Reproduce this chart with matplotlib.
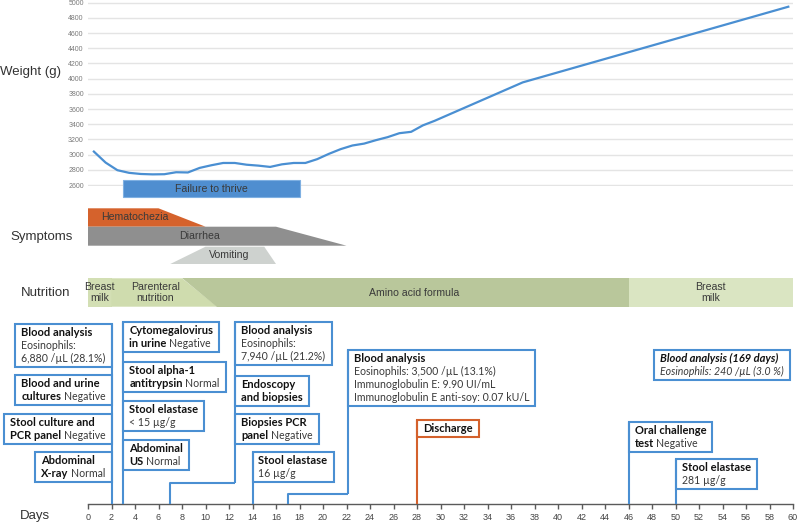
import matplotlib
matplotlib.use("Agg")
import matplotlib.pyplot as plt
from matplotlib.patches import Polygon, Rectangle

# ──────────────────────────────────────────────────────────────────────
# Data
# ──────────────────────────────────────────────────────────────────────

weight_day = [0.5, 1.5, 2.5, 3.5, 4.5, 5.5, 6.5, 7.5, 8.5, 9.5,
              10.5, 11.5, 12.5, 13.5, 14.5, 15.5, 16.5, 17.5, 18.5, 19.5,
              20.5, 21.5, 22.5, 23.5, 24.5, 25.5, 26.5, 27.5, 28.5, 29.5,
              37.0, 59.6]
weight_g = [3040, 2895, 2795, 2760, 2745, 2740, 2742, 2768, 2765, 2825,
            2860, 2890, 2890, 2867, 2855, 2838, 2872, 2890, 2890, 2940,
            3010, 3072, 3120, 3145, 3190, 3230, 3282, 3300, 3385, 3445,
            3951, 4947]
weight_ticks = [2600, 2800, 3000, 3200, 3400, 3600, 3800, 4000, 4200,
                4400, 4600, 4800, 5000]

# tracks: label, (top start, top end), (bottom start, bottom end) in days
failure_label = "Failure to thrive"
failure_top = (3, 18)
failure_bottom = (3, 18)

symptom_labels = ["Hematochezia", "Diarrhea", "Vomiting"]
symptom_top = [(0, 6), (0, 16), (10, 15)]
symptom_bottom = [(0, 10), (0, 22), (7, 16)]

nutrition_labels = ["Breast\nmilk", "Parenteral\nnutrition",
                    "Amino acid formula", "Breast\nmilk"]
nutrition_top = [(0, 2), (2, 8), (8, 46), (46, 60)]
nutrition_bottom = [(0, 2), (2, 11), (11, 46), (46, 60)]

day_ticks = list(range(0, 61, 2))

# events: each box is a list of rows, each row a list of (text, bold)
event_days = [2, 3, 7, 14, 17, 28, 46, 50]
event_boxes = [
    [   # day 2
        [[("Blood analysis", True)], [("Eosinophils:", False)],
         [("6,880 /µL (28.1%)", False)]],
        [[("Blood and urine", True)], [("cultures", True), ("Negative", False)]],
        [[("Stool culture and", True)], [("PCR panel", True), ("Negative", False)]],
        [[("Abdominal", True)], [("X-ray", True), ("Normal", False)]],
    ],
    [   # day 3
        [[("Cytomegalovirus", True)], [("in urine", True), ("Negative", False)]],
        [[("Stool alpha-1", True)], [("antitrypsin", True), ("Normal", False)]],
        [[("Stool elastase", True)], [("< 15 µg/g", False)]],
        [[("Abdominal", True)], [("US", True), ("Normal", False)]],
    ],
    [   # day 7
        [[("Blood analysis", True)], [("Eosinophils:", False)],
         [("7,940 /µL (21.2%)", False)]],
        [[("Endoscopy", True)], [("and biopsies", True)]],
        [[("Biopsies PCR", True)], [("panel", True), ("Negative", False)]],
    ],
    [   # day 14
        [[("Stool elastase", True)], [("16 µg/g", False)]],
    ],
    [   # day 17
        [[("Blood analysis", True)], [("Eosinophils: 3,500 /µL (13.1%)", False)],
         [("Immunoglobulin E: 9.90 UI/mL", False)],
         [("Immunoglobulin E anti-soy: 0.07 kU/L", False)]],
    ],
    [   # day 28
        [[("Discharge", True)]],
    ],
    [   # day 46
        [[("Oral challenge", True)], [("test", True), ("Negative", False)]],
    ],
    [   # day 50
        [[("Stool elastase", True)], [("281 µg/g", False)]],
    ],
]
followup_box = [[("Blood analysis (169 days)", True)],
                [("Eosinophils: 240 /µL (3.0 %)", False)]]

# ──────────────────────────────────────────────────────────────────────
# Layout / style (pixel rows from the top of the figure)
# ──────────────────────────────────────────────────────────────────────

W, H = 800, 523
X0, X1 = 88, 793
BLUE = "#4A8FD2"
ORANGE = "#D4612C"
LABEL_FONT = "Liberation Sans"
BOX_FONT = "Lato"
FS_BOLD = 8.0
FS_REG = 7.6
LINE_H = 13.0
PADX, PADY = 6.0, 2.0
GAP = 2.5
AXIS_Y = 504.3

# side of box, tops of boxes, elbow (bend row, anchor day) or None, color
event_layout = [
    dict(side="right", tops=[324.3, 375.0, 413.7, 451.7], elbow=None, color=BLUE),
    dict(side="left", tops=[321.7, 362.3, 401.0, 440.3], elbow=None, color=BLUE),
    dict(side="left", tops=[321.7, 375.7, 414.3], elbow=(483.3, 12.55), color=BLUE),
    dict(side="left", tops=[452.3], elbow=None, color=BLUE),
    dict(side="left", tops=[350.0], elbow=(494.0, 22.1), color=BLUE),
    dict(side="left", tops=[420.0], elbow=None, color=ORANGE),
    dict(side="left", tops=[421.7], elbow=None, color=BLUE),
    dict(side="left", tops=[459.3], elbow=None, color=BLUE),
]

fig = plt.figure(figsize=(W / 100, H / 100), dpi=100)

# weight chart
y_top_px, y_bot_px = 2.7, 185.0
px_per_g = (y_bot_px - y_top_px) / 2400
ax_w = fig.add_axes([X0 / W, 1 - (y_bot_px + 10 * px_per_g) / H,
                     (X1 - X0) / W, (y_bot_px - y_top_px + 20 * px_per_g) / H])
ax_w.set_xlim(0, 60)
ax_w.set_ylim(2590, 5010)
ax_w.patch.set_alpha(0)
for s in ax_w.spines.values():
    s.set_visible(False)
ax_w.set_xticks([])
ax_w.set_yticks(weight_ticks)
ax_w.tick_params(axis="y", length=0, labelsize=5, labelcolor="#7a7a7a", pad=3)
for lab in ax_w.get_yticklabels():
    lab.set_fontfamily(LABEL_FONT)
ax_w.yaxis.grid(True, color="#e4e4e4", lw=1.0)
ax_w.set_axisbelow(True)
ax_w.plot(weight_day, weight_g, color="#4A8FD2", lw=1.6, solid_joinstyle="round")

# main timeline axes: x in days, y in pixel rows from the top
ax = fig.add_axes([X0 / W, 0, (X1 - X0) / W, 1], zorder=2)
ax.set_xlim(0, 60)
ax.set_ylim(H, 0)
ax.patch.set_alpha(0)
for name, s in ax.spines.items():
    s.set_visible(name == "bottom")
ax.spines["bottom"].set_position(("data", AXIS_Y))
ax.spines["bottom"].set_color("#5a5a5a")
ax.spines["bottom"].set_linewidth(1.0)
ax.set_yticks([])
ax.set_xticks(day_ticks)
ax.tick_params(axis="x", direction="out", length=3.6, width=1.0, color="#5a5a5a",
               labelsize=6.5, labelcolor="#444444", pad=2.5)
for lab in ax.get_xticklabels():
    lab.set_fontfamily(LABEL_FONT)


def draw_track(top, bottom, y0, y1, color, label, text_color="#3a3a3a", edge="none"):
    pts = [(top[0], y0), (top[1], y0), (bottom[1], y1), (bottom[0], y1)]
    ax.add_patch(Polygon(pts, closed=True, facecolor=color, edgecolor=edge,
                         lw=0.8, zorder=3, clip_on=False))
    cx = (top[0] + top[1] + bottom[0] + bottom[1]) / 4
    ax.text(cx, (y0 + y1) / 2, label, ha="center", va="center", fontsize=7.6,
            family=LABEL_FONT, color=text_color, linespacing=1.2, zorder=4)


draw_track(failure_top, failure_bottom, 180, 197, "#4F8ED0", failure_label,
           edge="#7fb0e2")

symptom_rows = [(208.3, 226.7), (226.7, 245.7), (246.7, 264.0)]
symptom_colors = ["#D5622C", "#8F8F8F", "#CED2CF"]
for lab, t, b, (y0, y1), c in zip(symptom_labels, symptom_top, symptom_bottom,
                                  symptom_rows, symptom_colors):
    draw_track(t, b, y0, y1, c, lab)

nutrition_colors = ["#D3DFB4", "#CFDCAE", "#B9C79B", "#DAE5C2"]
for lab, t, b, c in zip(nutrition_labels, nutrition_top, nutrition_bottom,
                        nutrition_colors):
    draw_track(t, b, 278.3, 306.7, c, lab)

renderer = fig.canvas.get_renderer()


def draw_box(rows, anchor_day, side, top, color, italic=False):
    style = "italic" if italic else "normal"
    arts = []
    for row in rows:
        row_art = []
        for text, bold in row:
            t = ax.text(0, 0, text, fontsize=FS_BOLD if bold else FS_REG,
                        family=BOX_FONT,
                        fontweight="bold" if bold else "normal", fontstyle=style,
                        color="#111111" if bold else "#3a3a3a",
                        ha="left", va="center", zorder=7)
            row_art.append(t)
        arts.append(row_art)
    widths = [sum(t.get_window_extent(renderer).width for t in r) + GAP * (len(r) - 1)
              for r in arts]
    box_w = max(widths) + 2 * PADX
    box_h = len(rows) * LINE_H + 2 * PADY
    xa = ax.transData.transform((anchor_day, 0))[0]
    left = xa - box_w if side == "right" else xa
    inv = ax.transData.inverted()
    d_left = inv.transform((left, 0))[0]
    d_right = inv.transform((left + box_w, 0))[0]
    ax.add_patch(Rectangle((d_left, top), d_right - d_left, box_h, facecolor="white",
                           edgecolor=color, lw=1.5, zorder=5, clip_on=False))
    for i, r in enumerate(arts):
        y = top + PADY + LINE_H * (i + 0.5)
        xd = left + PADX
        for t in r:
            t.set_position((inv.transform((xd, 0))[0], y))
            xd += t.get_window_extent(renderer).width + GAP


for day, boxes, lay in zip(event_days, event_boxes, event_layout):
    color = lay["color"]
    anchor = day
    if lay["elbow"] is not None:
        bend, anchor = lay["elbow"]
        ax.plot([day, day, anchor], [AXIS_Y, bend, bend], color=color, lw=1.5,
                zorder=6, solid_capstyle="butt")
        line_bottom = bend
    else:
        line_bottom = AXIS_Y
    for rows, top in zip(boxes, lay["tops"]):
        draw_box(rows, anchor, lay["side"], top, color)
    ax.plot([anchor, anchor], [line_bottom, min(lay["tops"])], color=color, lw=1.5,
            zorder=6, solid_capstyle="butt")

draw_box(followup_box, 48.2, "left", 350.0, BLUE, italic=True)

# row labels
for txt, x, y in [("Weight (g)", 0, 72), ("Symptoms", 10, 237),
                  ("Nutrition", 21, 293), ("Days", 20, 516.5)]:
    fig.text(x / W, 1 - y / H, txt, ha="left", va="center", fontsize=9.5,
             family=LABEL_FONT, color="#333333")

fig.savefig("out.png", dpi=100)
